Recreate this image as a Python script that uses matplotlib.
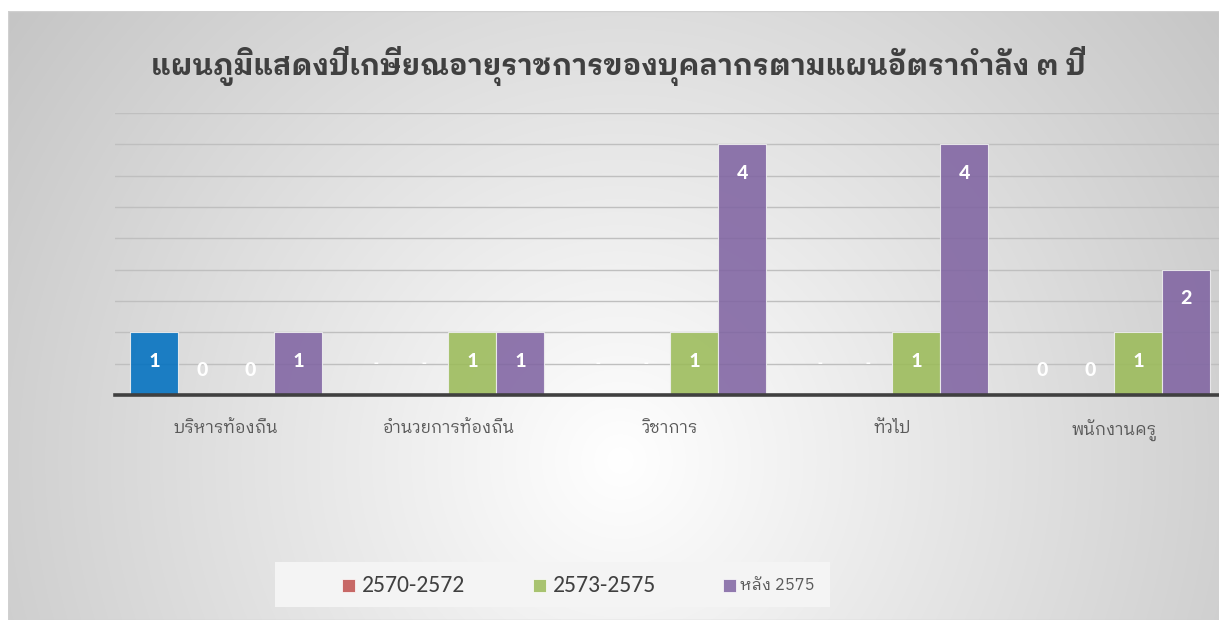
import numpy as np
import matplotlib
matplotlib.use("Agg")
import matplotlib.pyplot as plt
from matplotlib.patches import Rectangle

# ---------------- data ----------------
title = "แผนภูมิแสดงปีเกษียณอายุราชการของบุคลากรตามแผนอัตรากำลัง ๓ ปี"
categories = ["บริหารท้องถิ่น", "อำนวยการท้องถิ่น", "วิชาการ", "ทั่วไป", "พนักงานครู"]
series_names = ["ก่อน 2570", "2570-2572", "2573-2575", "หลัง 2575"]
values_s0 = [1, None, None, None, 0]
values_s1 = [0, None, None, None, 0]
values_s2 = [0, 1, 1, 1, 1]
values_s3 = [1, 1, 4, 4, 2]
series_values = [values_s0, values_s1, values_s2, values_s3]
legend_series = [1, 2, 3]

colors = ["#0070C0", "#C0504D", "#9BBB59", "#8064A2"]

# ---------------- fonts ----------------
THAI = ["IBM Plex Sans Thai Looped", "DejaVu Sans"]
LATIN = ["Carlito", "Open Sans", "IBM Plex Sans Thai Looped", "DejaVu Sans"]
plt.rcParams["font.family"] = THAI

W, H = 1219, 624
fig = plt.figure(figsize=(W / 100, H / 100), dpi=100)
fig.patch.set_facecolor("white")

# ---------------- background gradient ----------------
x0, x1, y0, y1 = 8, 1219, 11, 620
bg = fig.add_axes([x0 / W, (H - y1) / H, (x1 - x0) / W, (y1 - y0) / H])
xs = np.arange(x0, x1)
ys = np.arange(y0, y1)
X, Y = np.meshgrid(xs, ys)
d = np.sqrt((X - 620) ** 2 + ((Y - 460) * 1.0) ** 2)
v = np.clip(1 - 3.0e-4 * d, 0, 1)
img = np.dstack([v, v, v])
bg.imshow(img, aspect="auto", extent=[0, 1, 0, 1], interpolation="bilinear")
bg.set_xlim(0, 1); bg.set_ylim(0, 1)
bg.axis("off")
bg.add_patch(Rectangle((0, 0), 1, 1, transform=bg.transAxes, fill=False,
                       edgecolor="#d0d0d0", lw=1))

# ---------------- main axes ----------------
ax = fig.add_axes([115 / W, (H - 395) / H, 1110 / W, 282 / H])
ax.patch.set_alpha(0)
ax.set_xlim(-0.5, len(categories) - 0.5)
ax.set_ylim(0, 4.5)
ax.set_yticks(np.arange(0.5, 4.51, 0.5))
ax.yaxis.grid(True, color="#bfbfbf", lw=1)
ax.set_axisbelow(True)
ax.tick_params(axis="y", length=0, labelleft=False)
for s in ["top", "right", "left"]:
    ax.spines[s].set_visible(False)
ax.spines["bottom"].set_color("#404040")
ax.spines["bottom"].set_linewidth(2.6)
ax.spines["bottom"].set_zorder(5)

x = np.arange(len(categories))
step = 48 / 222
bw = 0.212
for i, vals in enumerate(series_values):
    off = (i - 1.5) * step
    hv = [0 if vv is None else vv for vv in vals]
    ax.bar(x + off, hv, width=bw, color=colors[i], alpha=0.88,
           edgecolor="#f0f0f0", linewidth=0.8, zorder=3)
    for j, vv in enumerate(vals):
        if vv is None:
            ax.text(x[j] + off, 0.5, "-", color="white", ha="center", va="center",
                    fontsize=11, fontweight="bold", zorder=4, family=LATIN)
        elif vv == 0:
            ax.text(x[j] + off, 0.40, "0", color="white", ha="center", va="center",
                    fontsize=16, fontweight="bold", zorder=4, family=LATIN)
        else:
            ax.text(x[j] + off, vv - 0.45, str(vv), color="white", ha="center",
                    va="center", fontsize=16, fontweight="bold", zorder=4, family=LATIN)

ax.set_xticks(x)
ax.set_xticklabels(categories, fontsize=12, color="#595959")
ax.tick_params(axis="x", length=0, pad=18)

# ---------------- title ----------------
fig.text(618 / W, 1 - 66 / H, title, ha="center", va="center", fontsize=20.7,
         fontweight="bold", color="#404040")

# ---------------- legend ----------------
fig.patches.append(Rectangle((275 / W, (H - 607) / H), 555 / W, 45 / H,
                             transform=fig.transFigure, facecolor="#f4f4f4",
                             edgecolor="none", zorder=1))
leg_items = [(342, 362, 17, "#404040", LATIN), (533, 553, 17, "#404040", LATIN),
             (723, 740, 11.8, "#595959", THAI)]
for k, (mx, tx, fs, tc, ff) in zip(legend_series, leg_items):
    fig.patches.append(Rectangle((mx / W, (H - 592) / H), 13 / W, 13 / H,
                                 transform=fig.transFigure, facecolor=colors[k],
                                 alpha=0.85, edgecolor="white", lw=0.6, zorder=2))
    fig.text(tx / W, 1 - 585 / H, series_names[k], ha="left", va="center",
             fontsize=fs, color=tc, zorder=3, family=ff)

fig.savefig("out.png", dpi=100)
